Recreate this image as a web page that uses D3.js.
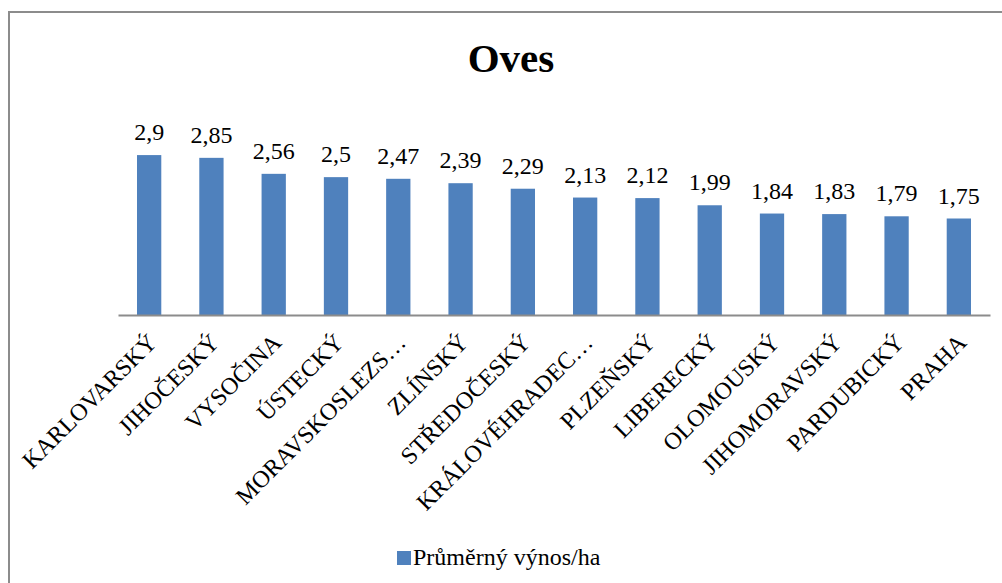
<!DOCTYPE html>
<html>
<head>
<meta charset="utf-8">
<script src="https://cdn.jsdelivr.net/npm/d3@7"></script>
<style>
  html, body { margin: 0; padding: 0; background: #fff; }
  svg { display: block; }
</style>
</head>
<body>
<svg id="chart" width="1002" height="583"></svg>
<script>
// Average oat yield per hectare by region
const regions = ["KARLOVARSKÝ", "JIHOČESKÝ", "VYSOČINA", "ÚSTECKÝ", "MORAVSKOSLEZS…", "ZLÍNSKÝ",
  "STŘEDOČESKÝ", "KRÁLOVÉHRADEC…", "PLZEŇSKÝ", "LIBERECKÝ", "OLOMOUSKÝ", "JIHOMORAVSKÝ",
  "PARDUBICKÝ", "PRAHA"];
const yields = [2.9, 2.85, 2.56, 2.5, 2.47, 2.39, 2.29, 2.13, 2.12, 1.99, 1.84, 1.83, 1.79, 1.75];
const seriesName = "Průměrný výnos/ha";
const chartTitle = "Oves";

const serif = "'Liberation Serif', 'Times New Roman', serif";
const svg = d3.select("#chart");
const barColor = "#4F81BD";
const fmt = v => String(v).replace(".", ",");

// chart frame
svg.append("rect")
  .attr("x", 9).attr("y", 12)
  .attr("width", 1100).attr("height", 700)
  .attr("fill", "none").attr("stroke", "#8c8c8c").attr("stroke-width", 2);

// title
svg.append("text")
  .attr("x", 511).attr("y", 72)
  .attr("text-anchor", "middle")
  .style("font-family", serif)
  .style("font-size", "41px").style("font-weight", "bold")
  .attr("fill", "#000")
  .text(chartTitle);

const plot = { left: 118, right: 990, top: 122, bottom: 315 };

const x = d3.scaleBand().domain(regions).range([plot.left, plot.right]).paddingInner(0.61).paddingOuter(0.305);
const y = d3.scaleLinear().domain([0, 3.5]).range([plot.bottom, plot.top]);

// bars
svg.append("g").selectAll("rect").data(yields).join("rect")
  .attr("x", (d, i) => x(regions[i]))
  .attr("y", d => y(d))
  .attr("width", x.bandwidth())
  .attr("height", d => y(0) - y(d))
  .attr("fill", barColor);

// value labels
svg.append("g").selectAll("text").data(yields).join("text")
  .attr("x", (d, i) => x(regions[i]) + x.bandwidth() / 2)
  .attr("y", d => y(d) - 15)
  .attr("text-anchor", "middle")
  .style("font-family", serif)
  .style("font-size", "24px")
  .attr("fill", "#000")
  .text(d => fmt(d));

// category axis
const xAxis = svg.append("g")
  .attr("transform", `translate(0,${plot.bottom})`)
  .call(d3.axisBottom(x).tickSize(0).tickSizeOuter(0));
xAxis.select(".domain").attr("stroke", "#8c8c8c").attr("stroke-width", 2);
xAxis.selectAll(".tick text")
  .attr("text-anchor", "end")
  .attr("x", 0).attr("y", 0).attr("dy", 0)
  .attr("transform", "translate(9,29) rotate(-45)")
  .style("font-size", "24px")
  .style("font-family", serif)
  .attr("fill", "#000");

// legend
const legend = svg.append("g").attr("transform", "translate(397,551)");
legend.append("rect").attr("width", 14).attr("height", 14).attr("fill", barColor);
legend.append("text").attr("x", 16).attr("y", 14)
  .style("font-family", serif)
  .style("font-size", "24px")
  .attr("fill", "#000")
  .text(seriesName);
</script>
</body>
</html>
